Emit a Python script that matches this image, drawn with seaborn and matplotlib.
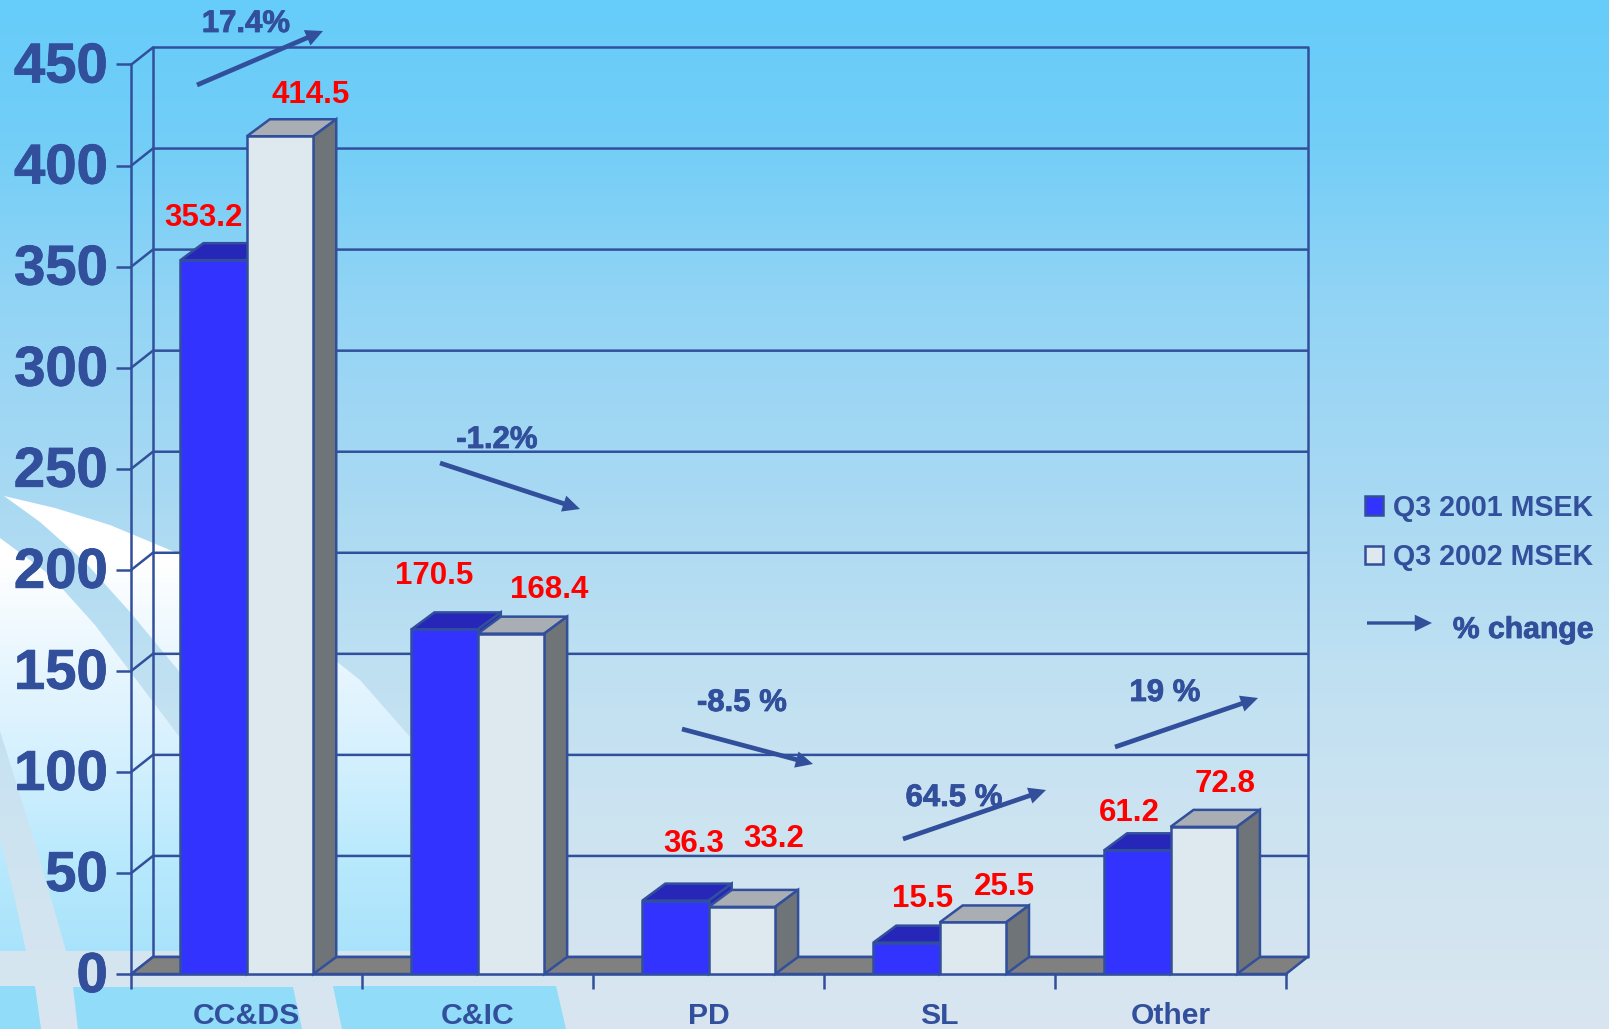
import numpy as np
import pandas as pd
import matplotlib
matplotlib.use("Agg")
import matplotlib.pyplot as plt
import matplotlib.patheffects as pe
from matplotlib.colors import to_rgb
from matplotlib.patches import Polygon, Patch
from matplotlib.transforms import ScaledTranslation
import seaborn as sns

# Data
categories = ["CC&DS", "C&IC", "PD", "SL", "Other"]
q3_2001 = [353.2, 170.5, 36.3, 15.5, 61.2]
q3_2002 = [414.5, 168.4, 33.2, 25.5, 72.8]
series_names = ["Q3 2001 MSEK", "Q3 2002 MSEK"]
y_ticks = [0, 50, 100, 150, 200, 250, 300, 350, 400, 450]

# labels and % change arrows, in pixels of the picture
label_pos_2001 = [(203, 218), (434, 576), (694, 844), (923, 899), (1129, 813)]
label_pos_2002 = [(311, 95), (549, 590), (774, 839), (1004, 887), (1225, 784)]
change_texts = ["17.4%", "-1.2%", "-8.5 %", "64.5 %", "19 %"]
change_text_pos = [(246, 24), (497, 440), (742, 703), (954, 798), (1165, 693)]
change_arrows = [((197, 85), (323, 31)), ((440, 463), (580, 509)), ((682, 729), (813, 764)),
                 ((903, 839), (1046, 790)), ((1115, 747), (1258, 698))]

# colours
ink = "#324F9B"
blue_front, blue_top = "#3333FF", "#2626B8"
pale_front, pale_top, pale_side = "#DEE8EF", "#A8AEB4", "#6E7478"
floor_col = "#808080"

W, H = 1609, 1029
LEFT, RIGHT, ZERO, TOP = 131.4, 1286, 974, 64.5

sns.set_style("white")
plt.rcParams["font.family"] = ["Liberation Sans", "DejaVu Sans"]
plt.rcParams["font.weight"] = "bold"

fig = plt.figure(figsize=(W / 100, H / 100), dpi=100)
heavy = [pe.withStroke(linewidth=0.6, foreground=ink)]


def gradient(ys, cols):
    rows = np.arange(H)
    rgb = np.array([to_rgb(c) for c in cols])
    return np.stack([np.interp(rows, ys, rgb[:, i]) for i in range(3)], axis=1)[:, None, :]


# background picture
ax_bg = fig.add_axes([0, 0, 1, 1], zorder=0)
ax_bg.set_xlim(0, W)
ax_bg.set_ylim(H, 0)
ax_bg.axis("off")
ax_bg.imshow(gradient([0, 145, 300, 490, 660, 800, 950, 1029],
                      ["#66CCFA", "#73CEF7", "#92D4F5", "#A8D9F3", "#BEE0F2", "#CBE3F1", "#D4E5F0", "#D9E6F0"]),
             extent=[0, W, H, 0], aspect="auto", zorder=0)

swoosh_img = gradient([490, 560, 640, 760, 860, 950], ["#FFFFFF", "#FFFFFF", "#EDF8FE", "#D4F0FE", "#B8E9FD", "#A9E3FB"])
swoosh = [(4, 496), (55, 508), (110, 525), (177, 553), (260, 600), (336, 661), (360, 680), (411, 738), (425, 750),
          (425, 951), (66, 951), (53, 905), (40, 860), (20, 795), (0, 731), (0, 538), (50, 575), (95, 625), (178, 735),
          (230, 760), (178, 670), (130, 612), (85, 562), (40, 522)]
corner = [(0, 838), (15, 900), (26, 951), (0, 951)]
for pts in [swoosh, corner]:
    im = ax_bg.imshow(swoosh_img, extent=[0, W, H, 0], aspect="auto", zorder=1)
    im.set_clip_path(Polygon(pts, transform=ax_bg.transData))
for pts in [[(0, 986), (35, 986), (41, H), (0, H)],
            [(73, 987), (293, 987), (302, H), (78, H)],
            [(333, 986), (556, 986), (566, H), (342, H)]]:
    ax_bg.add_patch(Polygon(pts, facecolor="#90DCF9", edgecolor="none", zorder=2))
ax_bg.set_xlim(0, W)
ax_bg.set_ylim(H, 0)

# chart
ax = fig.add_axes([LEFT / W, 1 - ZERO / H, (RIGHT - LEFT) / W, (ZERO - TOP) / H], zorder=1)
ax.patch.set_alpha(0)
df = pd.DataFrame({
    "category": categories * 2,
    "series": [series_names[0]] * 5 + [series_names[1]] * 5,
    "value": q3_2001 + q3_2002,
})
sns.barplot(data=df, x="category", y="value", hue="series", order=categories, hue_order=series_names,
            palette=[blue_front, pale_front], saturation=1, width=0.575, gap=0, edgecolor=ink, linewidth=1.8,
            legend=False, ax=ax)
ax.set_xlim(-0.5, 4.5)
ax.set_ylim(0, 450)
ax.set_xlabel("")
ax.set_ylabel("")
sns.despine(ax=ax, top=True, right=True)
for s in ["left", "bottom"]:
    ax.spines[s].set_color(ink)
    ax.spines[s].set_linewidth(1.8)
ax.set_yticks(y_ticks)
ax.set_xticks(np.arange(-0.5, 5), minor=True)
ax.tick_params(axis="y", left=True, length=11, width=1.8, color=ink, labelcolor=ink, labelsize=40.5, pad=6)
ax.tick_params(axis="x", which="major", length=0, labelcolor=ink, labelsize=21.7, pad=20.5)
ax.tick_params(axis="x", which="minor", length=11, width=1.8, color=ink, direction="out", bottom=True)
nudge = ScaledTranslation(0, 2 / 100, fig.dpi_scale_trans)
for tick in ax.yaxis.get_major_ticks():
    tick.label1.set_fontweight("bold")
    tick.label1.set_path_effects(heavy)
    tick.label1.set_transform(tick.label1.get_transform() + nudge)
for t in ax.get_xticklabels():
    t.set_fontweight("bold")

# the 3d look, depth given in data units
DX = 21.5 / ((RIGHT - LEFT) / 5)
BAR_DX = 23 / ((RIGHT - LEFT) / 5)
DY = 17 / ((ZERO - TOP) / 450)
line = dict(color=ink, lw=1.8, clip_on=False, zorder=1, solid_capstyle="round")
for v in y_ticks:
    ax.plot([-0.5, -0.5 + DX, 4.5 + DX], [v, v + DY, v + DY], **line)
ax.plot([-0.5 + DX, -0.5 + DX], [DY, 450 + DY], **line)
ax.plot([4.5 + DX, 4.5 + DX], [DY, 450 + DY], **line)
ax.add_patch(Polygon([(-0.5, 0), (-0.5 + DX, DY), (4.5 + DX, DY), (4.5, 0)], facecolor=floor_col,
                     edgecolor=ink, lw=1.8, clip_on=False, zorder=2))

for z, container, top_col, side_col in [(3, ax.containers[0], blue_top, blue_top),
                                        (5, ax.containers[1], pale_top, pale_side)]:
    for bar in container:
        x0, x1 = bar.get_x(), bar.get_x() + bar.get_width()
        h = bar.get_height()
        ax.add_patch(Polygon([(x0, h), (x0 + BAR_DX, h + DY), (x1 + BAR_DX, h + DY), (x1, h)], facecolor=top_col,
                             edgecolor=ink, lw=1.8, clip_on=False, zorder=z))
        ax.add_patch(Polygon([(x1, 0), (x1 + BAR_DX, DY), (x1 + BAR_DX, h + DY), (x1, h)], facecolor=side_col,
                             edgecolor=ink, lw=1.8, clip_on=False, zorder=z))
        bar.set_zorder(z + 1)

# legend for the two series
ax.legend(handles=[Patch(facecolor=blue_front, edgecolor=ink, lw=1.8, label=series_names[0]),
                   Patch(facecolor=pale_front, edgecolor=ink, lw=1.8, label=series_names[1])],
          loc="upper left", bbox_to_anchor=(1365 / W, 1 - 493.5 / H), bbox_transform=fig.transFigure,
          frameon=False, fontsize=20.6, labelcolor=ink, handlelength=0.62, handleheight=0.62,
          handletextpad=0.36, labelspacing=0.76, borderpad=0, borderaxespad=0)

# overlay in picture pixels for labels and arrows
ax_top = fig.add_axes([0, 0, 1, 1], zorder=2)
ax_top.patch.set_alpha(0)
ax_top.set_xlim(0, W)
ax_top.set_ylim(H, 0)
ax_top.axis("off")

for vals, places in [(q3_2001, label_pos_2001), (q3_2002, label_pos_2002)]:
    for v, (px, py) in zip(vals, places):
        ax_top.text(px, py, f"{v:.1f}", color="#FF0000", fontsize=22.5, fontweight="bold", ha="center", va="center")

for txt, (px, py) in zip(change_texts, change_text_pos):
    ax_top.text(px, py, txt, color=ink, fontsize=22.4, fontweight="bold", ha="center", va="center",
                path_effects=heavy)

for start, end in change_arrows:
    ax_top.annotate("", xy=end, xytext=start,
                    arrowprops=dict(arrowstyle="simple,head_length=0.62,head_width=0.6,tail_width=0.17",
                                    color=ink, lw=0, shrinkA=0, shrinkB=0, mutation_scale=20))

ax_top.annotate("", xy=(1432, 623), xytext=(1367, 623),
                arrowprops=dict(arrowstyle="simple,head_length=0.62,head_width=0.6,tail_width=0.12",
                                color=ink, lw=0, shrinkA=0, shrinkB=0, mutation_scale=20))
ax_top.text(1523, 630, "% change", color=ink, fontsize=21.7, fontweight="bold", ha="center", va="center",
            path_effects=heavy)

fig.savefig("out.png", dpi=100)
